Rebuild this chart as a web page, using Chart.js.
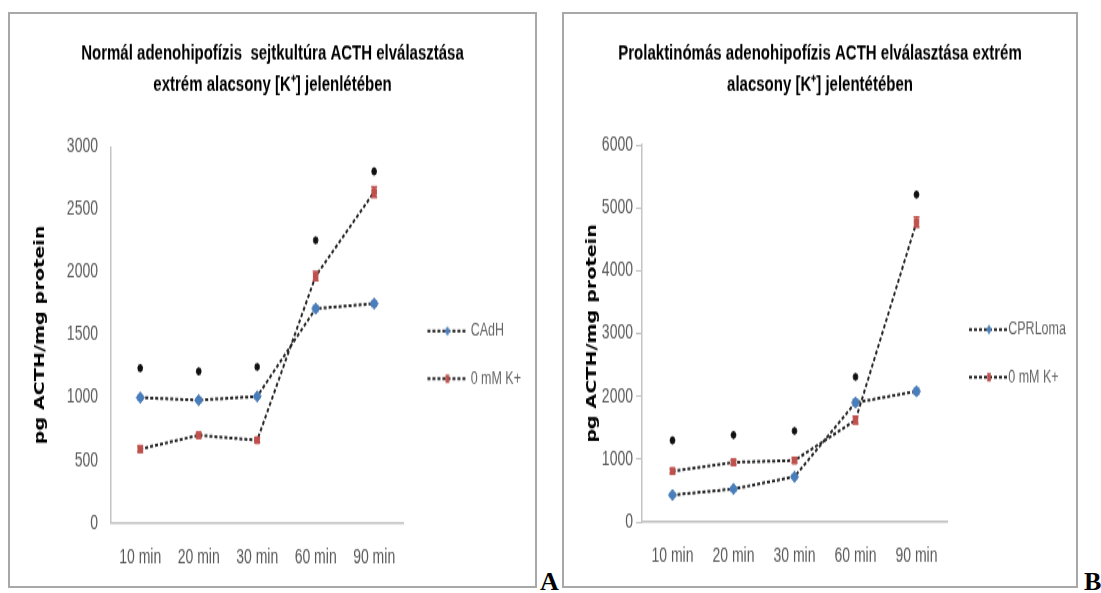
<!DOCTYPE html>
<html lang="hu">
<head>
<meta charset="utf-8">
<title>ACTH elválasztás</title>
<script src="https://cdn.jsdelivr.net/npm/chart.js@4.4.1/dist/chart.umd.min.js"></script>
<style>
  html, body { margin: 0; padding: 0; background: #fff; }
  body { width: 1101px; height: 593px; position: relative; overflow: hidden; }
  .panel { position: absolute; top: 12px; height: 572px; border: 2px solid #a8a8a8; background: #fff; overflow: hidden; }
  #panelA { left: 8px; width: 525px; }
  #panelB { left: 562px; width: 512px; }
  /* a grafikon függőlegesen nyújtva jelenik meg */
  .panel canvas { transform-origin: 0 0; transform: scaleY(1.4229); }
  .betu { position: absolute; top: 569px; font: bold 26px "Liberation Serif", "DejaVu Serif", serif; line-height: 26px; color: #000; }
</style>
</head>
<body>
<div class="panel" id="panelA"><canvas id="grafA" width="525" height="402" style="width:525px;height:402px"></canvas></div>
<span class="betu" style="left:540px">A</span>
<div class="panel" id="panelB"><canvas id="grafB" width="512" height="402" style="width:512px;height:402px"></canvas></div>
<span class="betu" style="left:1084px">B</span>

<script>
// időpontok
var kategoriak = ['10 min', '20 min', '30 min', '60 min', '90 min'];

// A: normál adenohipofízis sejtkultúra
var cadh = [1000, 980, 1010, 1710, 1750];
var cadhHiba = [15, 15, 15, 20, 20];
var k0A = [590, 700, 660, 1970, 2640];
var k0AHiba = [25, 20, 20, 35, 40];
var csillagA = [1235, 1210, 1245, 2255, 2805];   // * szignifikancia jelek magassága
var yTickekA = [0, 500, 1000, 1500, 2000, 2500, 3000];

// B: prolaktinómás adenohipofízis
var cprl = [430, 525, 720, 1900, 2080];
var cprlHiba = [30, 30, 30, 50, 40];
var k0B = [810, 950, 980, 1620, 4770];
var k0BHiba = [40, 40, 40, 60, 80];
var csillagB = [1300, 1385, 1450, 2310, 5210];
var yTickekB = [0, 1000, 2000, 3000, 4000, 5000, 6000];

var cimA = ['Normál adenohipofízis  sejtkultúra ACTH elválasztása', 'extrém alacsony [K\u207A] jelenlétében'];
var cimB = ['Prolaktinómás adenohipofízis ACTH elválasztása extrém', 'alacsony [K\u207A] jelentétében'];
var yCim = 'pg ACTH/mg protein';

var kek = '#4a7ebb';
var piros = '#c0504d';
var vonal = '#262626';
var betu = "'Liberation Sans', Arial, sans-serif";

Chart.defaults.font.family = betu;

// jelmagyarázat kis képe: szaggatott vonal + jelölő (eltol: a kép közepéhez képest)
function jelKep(szin, alak, eltol) {
  var w = 2 * (20 + eltol);
  var kx = 20 + 2 * eltol;
  var c = document.createElement('canvas');
  c.width = w; c.height = 10;
  var g = c.getContext('2d');
  g.strokeStyle = vonal; g.lineWidth = 2; g.setLineDash([3, 2]);
  g.beginPath(); g.moveTo(2 * eltol, 5); g.lineTo(w, 5); g.stroke();
  g.fillStyle = szin;
  g.beginPath();
  if (alak === 'rectRot') {
    g.moveTo(kx, 1.5); g.lineTo(kx + 2.8, 5); g.lineTo(kx, 8.5); g.lineTo(kx - 2.8, 5);
  } else {
    g.rect(kx - 1.8, 2, 3.6, 6);
  }
  g.fill();
  return c;
}

// hibasávok a pontokon
var hibaPlugin = {
  id: 'hibaSavok',
  afterDatasetsDraw: function(chart) {
    var ctx = chart.ctx;
    var y = chart.scales.y;
    chart.data.datasets.forEach(function(ds, i) {
      if (!ds.hiba) return;
      var meta = chart.getDatasetMeta(i);
      ctx.save();
      ctx.strokeStyle = ds.pointBackgroundColor;
      ctx.lineWidth = 1.5;
      meta.data.forEach(function(pt, j) {
        var fent = y.getPixelForValue(ds.data[j] + ds.hiba[j]);
        var lent = y.getPixelForValue(ds.data[j] - ds.hiba[j]);
        ctx.beginPath();
        ctx.moveTo(pt.x, fent); ctx.lineTo(pt.x, lent);
        ctx.moveTo(pt.x - 3, fent); ctx.lineTo(pt.x + 3, fent);
        ctx.moveTo(pt.x - 3, lent); ctx.lineTo(pt.x + 3, lent);
        ctx.stroke();
      });
      ctx.restore();
    });
  }
};

function sorozat(cimke, adat, hiba, szin, alak, sugar, eltol) {
  return {
    label: cimke,
    data: adat,
    hiba: hiba,
    jel: jelKep(szin, alak, eltol),
    borderColor: vonal,
    borderWidth: 2,
    borderDash: [3, 2],
    pointStyle: alak,
    pointRadius: sugar,
    pointBackgroundColor: szin,
    pointBorderColor: szin,
    pointBorderWidth: 1,
    tension: 0,
    fill: false
  };
}

function csillagok(adat) {
  return {
    label: '*',
    data: adat,
    showLine: false,
    pointStyle: 'star',
    pointRadius: 2.8,
    pointBorderWidth: 1.6,
    pointBorderColor: '#111',
    pointBackgroundColor: '#111'
  };
}

// k: oldalmargó, yw: y tengely szélessége, cimAlso: cím alatti hely, jw: jelölőkép szélessége
function beallitas(cim, yTickek, k, yw, cimAlso, jw, alsoPad, yJelolok) {
  return {
    responsive: false,
    animation: false,
    events: [],
    devicePixelRatio: 1,
    layout: { padding: { left: k, right: k, top: 0, bottom: alsoPad } },
    scales: {
      x: {
        offset: true,
        grid: { display: false, drawTicks: false },
        border: { display: true, color: '#bfbfbf', width: 1.5 },
        ticks: { color: '#595959', font: { size: 14 }, padding: 16, maxRotation: 0 },
        afterFit: function(s) { s.height = 32.8; }
      },
      y: {
        min: yTickek[0],
        max: yTickek[yTickek.length - 1],
        ticks: {
          stepSize: yTickek[1] - yTickek[0],
          color: '#595959',
          font: { size: 14 },
          padding: yJelolok ? 3 : 13,
          callback: function(v) { return String(v); }
        },
        grid: yJelolok
          ? { display: true, drawOnChartArea: false, drawTicks: true, tickLength: 6, color: '#bfbfbf' }
          : { display: false, drawTicks: false },
        border: { display: true, color: '#c4c4c4', width: 1.5 },
        title: {
          display: true, text: yCim, color: '#000',
          font: { family: "'DejaVu Sans', sans-serif", size: 13.5, weight: 'bold' },
          padding: { top: 17.9, bottom: 4 }
        },
        afterFit: function(s) { s.width = yw; }
      }
    },
    plugins: {
      title: {
        display: true,
        text: cim,
        color: '#000',
        font: { size: 15, weight: 'bold', lineHeight: 1.47 },
        padding: { top: 17, bottom: cimAlso }
      },
      legend: {
        position: 'right',
        fullSize: false,
        title: { display: true, text: ' ', font: { size: 10 }, padding: { top: 8, bottom: 8 } },
        labels: {
          usePointStyle: true,
          pointStyleWidth: jw,
          padding: 21,
          color: '#595959',
          font: { size: 12.5 },
          generateLabels: function(chart) {
            return chart.data.datasets.slice(0, 2).map(function(ds, i) {
              return { text: ds.label, pointStyle: ds.jel, datasetIndex: i, lineWidth: 0, hidden: false };
            });
          }
        }
      },
      tooltip: { enabled: false }
    }
  };
}

new Chart(document.getElementById('grafA'), {
  type: 'line',
  data: {
    labels: kategoriak,
    datasets: [
      sorozat('CAdH', cadh, cadhHiba, kek, 'rectRot', 4, 3),
      sorozat('0 mM K+', k0A, k0AHiba, piros, 'rect', 3.2, 3),
      csillagok(csillagA)
    ]
  },
  options: beallitas(cimA, yTickekA, 4, 97, 32.3, 40, 11.5, false),
  plugins: [hibaPlugin]
});

new Chart(document.getElementById('grafB'), {
  type: 'line',
  data: {
    labels: kategoriak,
    datasets: [
      sorozat('CPRLoma', cprl, cprlHiba, kek, 'rectRot', 4, 4),
      sorozat('0 mM K+', k0B, k0BHiba, piros, 'rect', 3.2, 4),
      csillagok(csillagB)
    ]
  },
  options: beallitas(cimB, yTickekB, 2, 76, 30.9, 34, 12.2, true),
  plugins: [hibaPlugin]
});
</script>
</body>
</html>
